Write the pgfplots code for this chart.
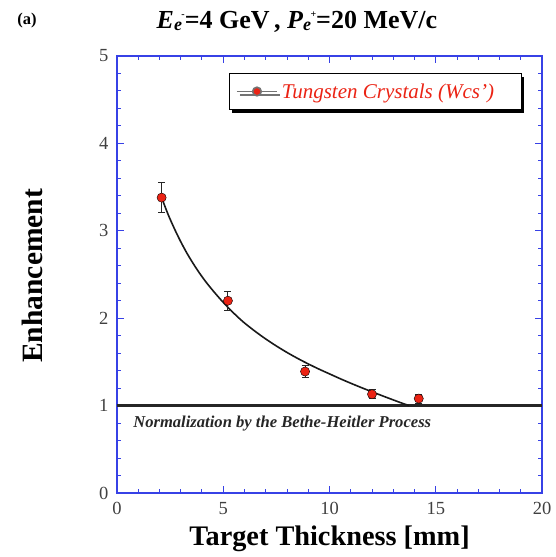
\documentclass[border=0pt]{standalone}
\usepackage{pgfplots}
\pgfplotsset{compat=1.18}
\usepackage{fontspec}
\setmainfont{Liberation Serif}
\usetikzlibrary{shadows}
\definecolor{axblue}{RGB}{55,65,230}
\definecolor{ptred}{RGB}{235,35,20}
\newcommand{\sub}[2]{\raisebox{-1.5pt}{\fontsize{18}{18}\selectfont\textit{#1}}\kern-0.5pt\raisebox{11.5pt}{\fontsize{10}{10}\selectfont #2}}
\begin{document}
\begin{tikzpicture}
\begin{axis}[
  scale only axis,
  width=425pt, height=437pt,
  xmin=0, xmax=20, ymin=0, ymax=5,
  xtick={0,5,10,15,20}, ytick={0,1,2,3,4,5},
  minor x tick num=4, minor y tick num=4,
  tick align=inside, tick pos=both,
  major tick length=7pt, minor tick length=4pt,
  axis line style={axblue, line width=1.1pt},
  every tick/.style={axblue, line width=1pt},
  /pgf/number format/assume math mode=true,
  tick label style={font=\fontsize{18.5}{20}\selectfont, text=black!75},
  xticklabel style={yshift=-6pt},
  yticklabel style={xshift=-5pt},
  clip=false,
  legend image code/.code={
    \draw[mark repeat=2, mark phase=2, #1] plot coordinates {(0pt,0pt) (20pt,0pt) (40pt,0pt)};},
  legend style={at={(axis description cs:0.952,0.960)}, anchor=north east,
    draw=black, line width=1pt, fill=white,
    font=\fontsize{21}{24}\selectfont\itshape, text=ptred,
    inner xsep=7pt, inner ysep=7.5pt,
    drop shadow={shadow xshift=3pt, shadow yshift=-3.5pt, fill=black, opacity=1}},
  legend cell align=left,
]
% normalization line
\addplot[black!85, line width=2.2pt, forget plot] coordinates {(0,1) (20,1)};
% fitted curve
\addplot[black!90, line width=1.6pt, smooth, forget plot] coordinates {
(2.1,3.38) (2.4,3.19) (2.7,3.025) (3.0,2.875) (3.3,2.74) (3.6,2.62) (3.9,2.51)
(4.2,2.41) (4.5,2.32) (4.8,2.235) (5.1,2.155) (5.4,2.08) (5.7,2.01) (6.0,1.945)
(6.5,1.85) (7.0,1.762) (7.5,1.682) (8.0,1.608) (8.5,1.54) (9.0,1.477) (9.5,1.418)
(10.0,1.363) (10.5,1.308) (11.0,1.256) (11.5,1.206) (12.0,1.158) (12.5,1.111)
(13.0,1.065) (13.5,1.02) (13.75,1.0)};
% data
\addplot[forget plot, only marks, mark=*, mark size=4.6pt, mark options={draw=none, fill=ptred},
  error bars/.cd, y dir=both, y explicit,
  error bar style={black!85, line width=0.9pt},
  error mark options={black!85, rotate=90, mark size=3.5pt, line width=0.9pt}]
coordinates {
(2.1,3.38) +- (0,0.17)
(5.22,2.20) +- (0,0.11)
(8.85,1.39) +- (0,0.07)
(12.0,1.13) +- (0,0.05)
(14.2,1.08) +- (0,0.05)
};
\addlegendimage{black!55, line width=1.6pt, mark=*, mark size=4.3pt, mark options={draw=none, fill=ptred}}
\addlegendentry{\kern2pt Tungsten Crystals (Wcs')\kern18pt}
\node[anchor=west, font=\fontsize{16.6}{18}\selectfont\bfseries\itshape, text=black!85]
  at (axis cs:0.6,0.79) {Normalization by the Bethe-Heitler Process};
\node[font=\fontsize{28.3}{30}\selectfont\bfseries] at (axis description cs:0.50,-0.105) {Target Thickness [mm]};
\node[font=\fontsize{29.5}{32}\selectfont\bfseries, rotate=90] at (axis description cs:-0.200,0.497) {Enhancement};
\node[anchor=west, font=\fontsize{26}{28}\selectfont\bfseries] at (axis description cs:0.085,1.078)
  {\textit{E}\sub{e}{-}=4 GeV\,, \textit{P}\sub{e}{+}=20 MeV/c};
\node[font=\fontsize{16.5}{18}\selectfont\bfseries] at (axis description cs:-0.212,1.082) {(a)};
\end{axis}
\pgfresetboundingbox
\path[use as bounding box] ([shift={(-117pt,-64pt)}]current axis.south west) rectangle ([shift={(13pt,56pt)}]current axis.north east);
\end{tikzpicture}
\end{document}
